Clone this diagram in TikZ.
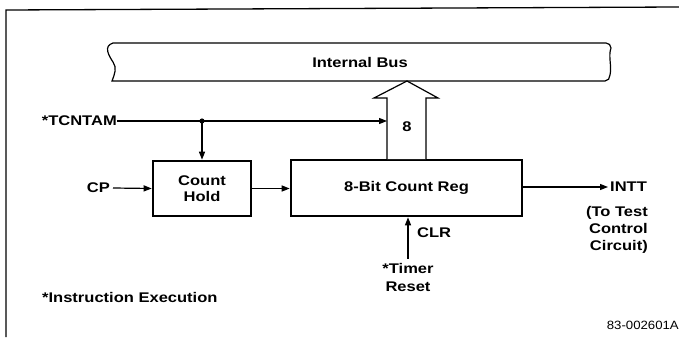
\documentclass[tikz,border=0pt]{standalone}
\usepackage{fontspec}
\setmainfont{Liberation Sans}[FakeStretch=1.18]
\newfontfamily\idfont{Liberation Sans}[FakeStretch=1.1]
\usetikzlibrary{arrows.meta}
\begin{document}
\begin{tikzpicture}[x=1pt,y=-1pt,
  font=\fontsize{14}{17}\selectfont\bfseries,
  box/.style={draw, line width=2.6pt, inner sep=0pt, align=center},
  wire/.style={line width=1.2pt},
  arr/.style={wire, -{Triangle[length=8pt,width=6pt]}},
  lbl/.style={inner sep=0pt}]
\useasboundingbox (0,0) rectangle (679,337);
% frame
\draw[line width=1.3pt] (6,337) -- (6,10) -- (679,7);
% internal bus
\draw[wire] (113,43) -- (606,43) to[out=0,in=90] (611,48)
  .. controls (608,56) and (612,66) .. (610,75) to[out=-90,in=0] (605,81)
  -- (112,81) .. controls (115,73) and (117,68) .. (113,62)
  .. controls (109,56) and (103,46) .. (113,43) -- cycle;
\node[lbl] (bus) at (360,62) {Internal Bus};
% blocks
\node[box, minimum width=98pt, minimum height=55pt] (hold) at (202,188.5) {Count\\[-1pt]Hold};
\node[box, minimum width=231pt, minimum height=56pt] (reg) at (406.5,188) {8-Bit Count Reg};
% labels
\node[lbl, anchor=east] (tcn) at (117,121) {*TCNTAM};
\node[lbl, anchor=east] (cp) at (110,188) {CP};
\node[lbl, anchor=west] (intt) at (610,187) {INTT};
\node[lbl, anchor=east, align=right] (tt) at (648,230) {(To Test\\Control\\Circuit)};
\node[lbl, anchor=west] (clr) at (417,233) {CLR};
\node[lbl, align=center] (tr) at (408,277) {*Timer\\[1pt]Reset};
\node[lbl, anchor=west] (ie) at (42,297) {*Instruction Execution};
\node[lbl, anchor=east, font=\idfont\fontsize{12}{14}\selectfont] (id) at (679,325) {83-002601A};
% fat bus arrow
\coordinate (sl) at (387,121);
\draw[wire, fill=white] (387,159) -- (387,98) -- (374,98) -- (407,81)
  -- (438,98) -- (426,98) -- (426,159);
\node[lbl] (eight) at (407,127) {8};
% connectors
\coordinate (j) at (hold.north |- tcn.east);
\draw[arr] (tcn.east) -- (sl);
\fill (j) circle (2.6pt);
\draw[arr] (j) -- (hold.north);
\draw[arr] ([xshift=3pt]cp.east) -- (hold.west);
\draw[arr] (hold.east) -- (hold.east -| reg.west);
\draw[arr] (reg.east |- intt.west) -- ([xshift=-2pt]intt.west);
\draw[arr] ([yshift=4pt]tr.north) -- (tr.north |- reg.south);
\end{tikzpicture}
\end{document}
